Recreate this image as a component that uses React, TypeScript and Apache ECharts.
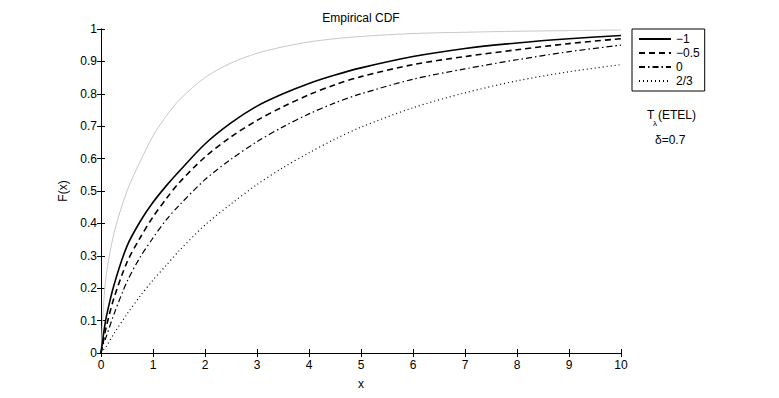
import React, { useEffect, useRef } from "react";
import * as echarts from "echarts";

const xs = [0, 0.05, 0.1, 0.25, 0.5, 0.75, 1, 1.25, 1.5, 2, 2.5, 3, 3.5, 4, 4.5, 5, 6, 7, 8, 9, 10];
const greyCdf = [0, 0.15, 0.24, 0.37, 0.5, 0.59, 0.67, 0.73, 0.78, 0.85, 0.895, 0.925, 0.945, 0.96, 0.97, 0.977, 0.986, 0.99, 0.993, 0.995, 0.997];
const cdfMinus1 = [0, 0.06, 0.11, 0.21, 0.33, 0.405, 0.465, 0.515, 0.56, 0.645, 0.71, 0.762, 0.8, 0.832, 0.858, 0.88, 0.915, 0.94, 0.957, 0.97, 0.98];
const cdfMinusHalf = [0, 0.04, 0.08, 0.17, 0.28, 0.355, 0.42, 0.475, 0.525, 0.605, 0.667, 0.718, 0.76, 0.797, 0.828, 0.853, 0.89, 0.915, 0.936, 0.955, 0.97];
const cdfZero = [0, 0.03, 0.05, 0.12, 0.22, 0.295, 0.355, 0.41, 0.455, 0.535, 0.598, 0.652, 0.698, 0.738, 0.772, 0.8, 0.845, 0.877, 0.905, 0.93, 0.95];
const cdfTwoThirds = [0, 0.01, 0.02, 0.06, 0.12, 0.175, 0.225, 0.27, 0.315, 0.395, 0.46, 0.52, 0.572, 0.618, 0.66, 0.697, 0.757, 0.803, 0.84, 0.868, 0.89];
const legendNames = ["\u22121", "\u22120.5", "0", "2/3"];

const FONT = "Liberation Sans, Arial, Helvetica, sans-serif";

function pairs(ys: number[]) {
  return xs.map((x, i) => [x, ys[i]]);
}

export default function App() {
  const ref = useRef<HTMLDivElement>(null);
  useEffect(() => {
    if (!ref.current) return;
    const chart = echarts.init(ref.current, undefined, { renderer: "svg" });
    const axisCommon = {
      type: "value" as const,
      axisLine: { show: true, lineStyle: { color: "#000", width: 1 } },
      axisTick: { show: true, inside: true, length: 4, lineStyle: { color: "#000" } },
      splitLine: { show: false },
    };
    const lineSeries = (name: string, ys: number[], type: any, width: number, color = "#000") => ({
      name,
      type: "line",
      data: pairs(ys),
      showSymbol: false,
      symbol: "none",
      smooth: 0.3,
      lineStyle: { color, width, type },
      itemStyle: { color },
      z: 3,
    });
    chart.setOption({
      animation: false,
      textStyle: { fontFamily: FONT },
      grid: { left: 101, top: 29, width: 520, height: 324 },
      xAxis: [
        {
          ...axisCommon,
          min: 0,
          max: 10,
          interval: 1,
          position: "bottom",
          axisLabel: { color: "#000", fontSize: 12, margin: 6, fontFamily: FONT },
          name: "x",
          nameLocation: "middle",
          nameGap: 25,
          nameTextStyle: { color: "#000", fontSize: 12, fontFamily: FONT },
        },
        {
          ...axisCommon,
          min: 0,
          max: 10,
          interval: 1,
          position: "top",
          axisLabel: { show: false },
        },
      ],
      yAxis: [
        {
          ...axisCommon,
          min: 0,
          max: 1,
          interval: 0.1,
          position: "left",
          axisLabel: { color: "#000", fontSize: 12, margin: 4, fontFamily: FONT },
          name: "F(x)",
          nameLocation: "middle",
          nameGap: 26,
          nameTextStyle: { color: "#000", fontSize: 12, fontFamily: FONT },
        },
        {
          ...axisCommon,
          min: 0,
          max: 1,
          interval: 0.1,
          position: "right",
          axisLabel: { show: false },
        },
      ],
      legend: {
        data: legendNames,
        orient: "vertical",
        left: 632,
        top: 29,
        backgroundColor: "#fff",
        borderColor: "#000",
        borderWidth: 1,
        borderRadius: 0,
        padding: [4, 5, 4, 6],
        itemWidth: 32,
        itemHeight: 10,
        itemGap: 2,
        itemStyle: { opacity: 0 },
        textStyle: { color: "#000", fontSize: 12, fontFamily: FONT, lineHeight: 12 },
      },
      series: [
        lineSeries("grey", greyCdf, "solid", 1, "#c8c8c8"),
        lineSeries(legendNames[0], cdfMinus1, "solid", 1.6),
        lineSeries(legendNames[1], cdfMinusHalf, [6, 4], 1.6),
        lineSeries(legendNames[2], cdfZero, [6, 3, 1.5, 3], 1.2),
        lineSeries(legendNames[3], cdfTwoThirds, [1, 3], 1.2),
      ],
      graphic: [
        {
          type: "text",
          x: 361,
          y: 18,
          style: { text: "Empirical CDF", fill: "#000", font: `12px ${FONT}`, textAlign: "center", textVerticalAlign: "middle" },
        },
        {
          type: "text",
          x: 647,
          y: 115,
          style: { text: "T", fill: "#000", font: `12px ${FONT}`, textAlign: "left", textVerticalAlign: "middle" },
        },
        {
          type: "text",
          x: 653,
          y: 123,
          style: { text: "\u03bb", fill: "#000", font: `8px ${FONT}`, textAlign: "left", textVerticalAlign: "middle" },
        },
        {
          type: "text",
          x: 658,
          y: 115,
          style: { text: "(ETEL)", fill: "#000", font: `12px ${FONT}`, textAlign: "left", textVerticalAlign: "middle" },
        },
        {
          type: "text",
          x: 655,
          y: 140,
          style: { text: "\u03b4=0.7", fill: "#000", font: `12px ${FONT}`, textAlign: "left", textVerticalAlign: "middle" },
        },
      ],
    });
    return () => chart.dispose();
  }, []);
  return <div ref={ref} style={{ position: "fixed", left: 0, top: 0, width: 779, height: 398, background: "#fff" }} />;
}
